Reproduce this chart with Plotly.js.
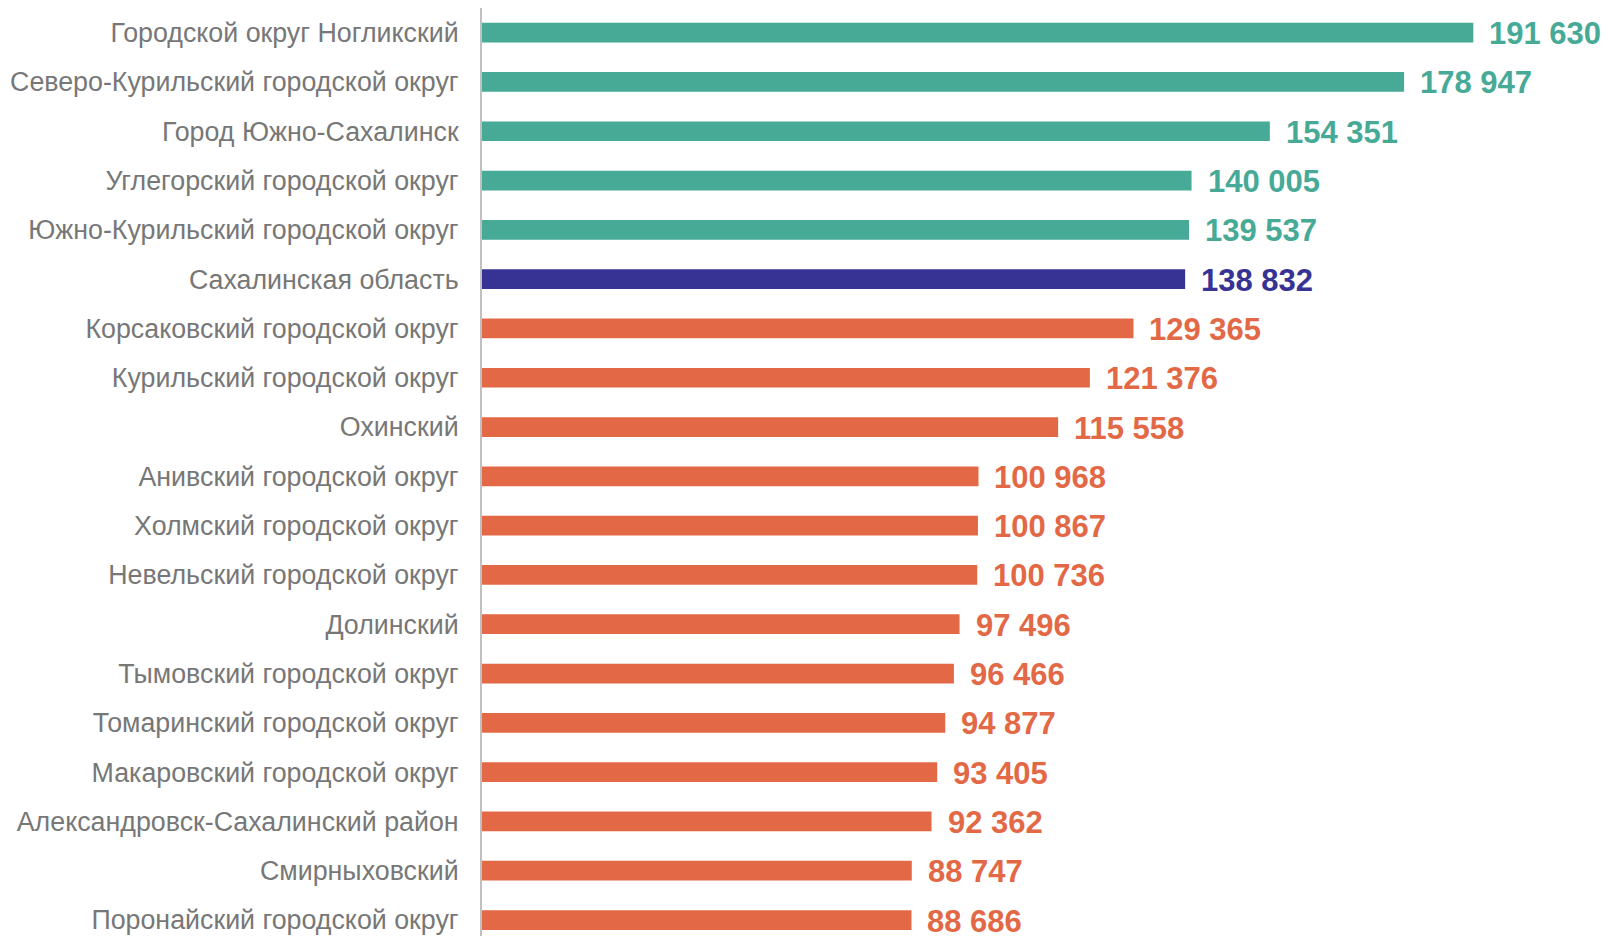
<!DOCTYPE html>
<html>
<head>
<meta charset="utf-8">
<script src="https://cdn.plot.ly/plotly-3.0.1.min.js"></script>
<style>html,body{margin:0;padding:0;background:#fff;}#chart{width:1608px;height:936px;}</style>
</head>
<body>
<div id="chart"></div>
<script>
const categories = [
  "Городской округ Ногликский",
  "Северо-Курильский городской округ",
  "Город Южно-Сахалинск",
  "Углегорский городской округ",
  "Южно-Курильский городской округ",
  "Сахалинская область",
  "Корсаковский городской округ",
  "Курильский городской округ",
  "Охинский",
  "Анивский городской округ",
  "Холмский городской округ",
  "Невельский городской округ",
  "Долинский",
  "Тымовский городской округ",
  "Томаринский городской округ",
  "Макаровский городской округ",
  "Александровск-Сахалинский район",
  "Смирныховский",
  "Поронайский городской округ"
];
const values = [191630, 178947, 154351, 140005, 139537, 138832, 129365, 121376, 115558, 100968, 100867, 100736, 97496, 96466, 94877, 93405, 92362, 88747, 88686];
const regionName = "Сахалинская область";

const TEAL = "#47aa97", NAVY = "#363394", ORANGE = "#e36846";
const regionValue = values[categories.indexOf(regionName)];
const colors = categories.map((c, i) => c === regionName ? NAVY : (values[i] > regionValue ? TEAL : ORANGE));
const fmt = v => String(v).replace(/\B(?=(\d{3})+(?!\d))/g, " ");

const trace = {
  type: "bar",
  orientation: "h",
  x: values,
  y: categories,
  marker: { color: colors },
  hoverinfo: "none"
};

const annotations = categories.map((c, i) => ({
  x: values[i], y: c, xref: "x", yref: "y",
  text: fmt(values[i]),
  showarrow: false, xanchor: "left", yanchor: "middle", xshift: 14, yshift: -1,
  font: { family: "Liberation Sans, Arial, sans-serif", size: 31, color: colors[i], weight: "bold" }
}));

const layout = {
  width: 1608, height: 936,
  margin: { l: 482, r: 89, t: 8, b: 0, pad: 0 },
  paper_bgcolor: "#ffffff", plot_bgcolor: "#ffffff",
  showlegend: false,
  bargap: 0.6,
  xaxis: { range: [10000, 200000], visible: false, showgrid: false, zeroline: false },
  yaxis: {
    type: "category",
    categoryorder: "array", categoryarray: categories,
    range: [18.324, -0.5],
    showline: true, linecolor: "#c0c0c0", linewidth: 2,
    showgrid: false, zeroline: false, ticks: "",
    ticklabelstandoff: 16,
    tickfont: { family: "Liberation Sans, Arial, sans-serif", size: 26.8, color: "#777777" }
  },
  annotations: annotations
};

Plotly.newPlot("chart", [trace], layout, { displayModeBar: false, staticPlot: true });
</script>
</body>
</html>
